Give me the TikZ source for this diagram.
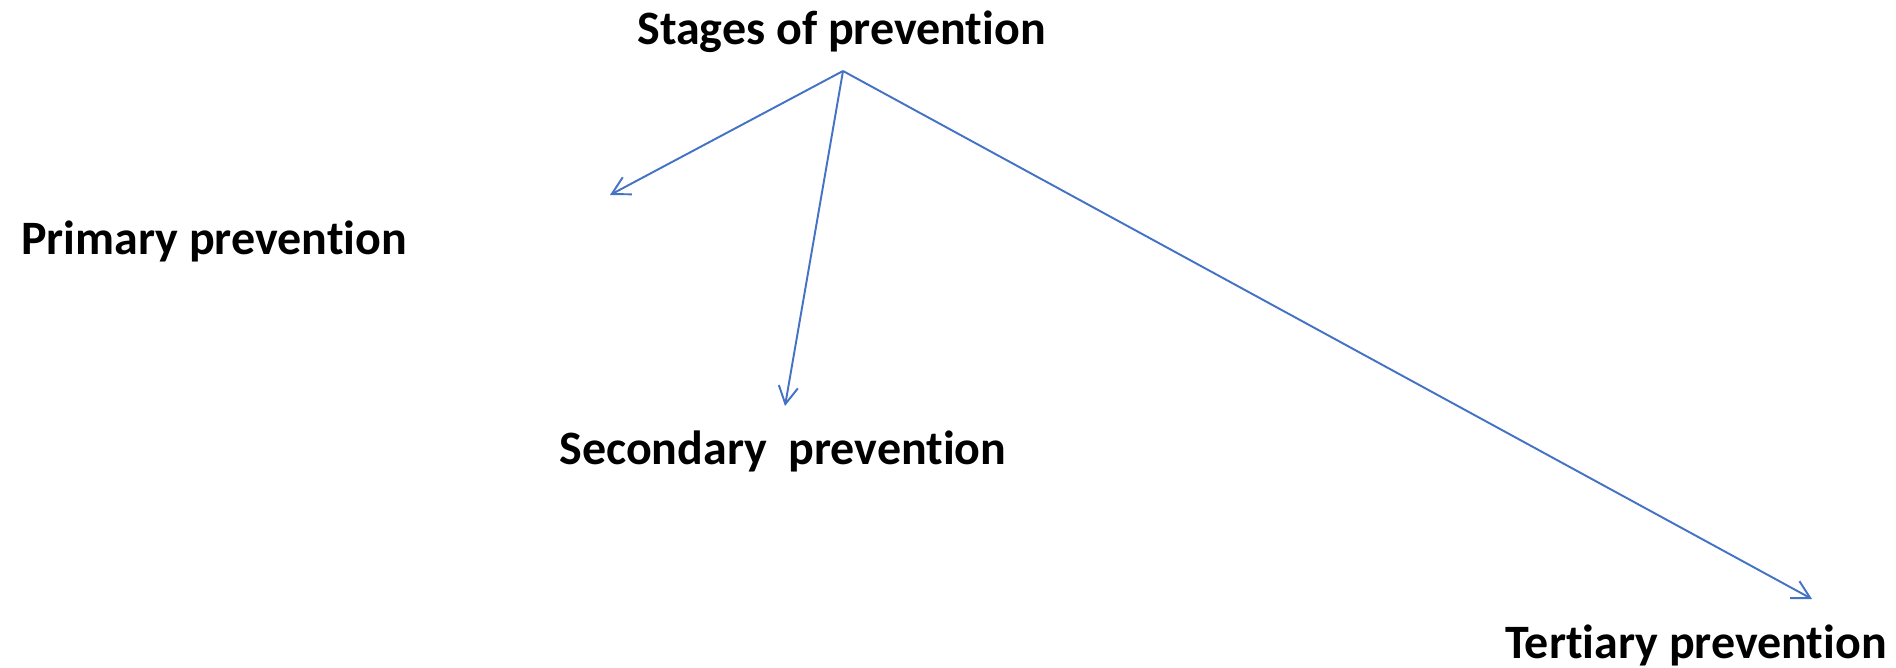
\documentclass[tikz,border=0pt]{standalone}
\usepackage{fontspec}
\setmainfont[Ligatures=NoCommon]{Carlito}
\usetikzlibrary{arrows.meta,positioning}
\definecolor{stageblue}{RGB}{68,114,196}

\begin{document}
\begin{tikzpicture}[
    x=0.02cm, y=-0.02cm,
    every node/.style={font=\fontsize{27.3}{32}\selectfont\bfseries, inner sep=0pt, anchor=base west},
    stagearrow/.style={-{Straight Barb[length=10pt,width=11pt]}, line width=1.1pt, color=stageblue},
]
\useasboundingbox (0,0) rectangle (1896,668);

% Labels
\node (title) at (637,45) {Stages of prevention};
\node (primary) at (21,255) {Primary prevention};
\node (secondary) at (559,465) {Secondary\ \ prevention};
\node (tertiary) at (1505,658) {Tertiary prevention};

% Arrow ends
\coordinate (apex) at (843,71);
\coordinate (tip1) at (610,195);
\coordinate (tip2) at (785,406);
\coordinate (tip3) at (1812,599);

% Arrows
\draw[stagearrow] (apex) -- (tip1);
\draw[stagearrow] (apex) -- (tip2);
\draw[stagearrow] (apex) -- (tip3);

\end{tikzpicture}
\end{document}
